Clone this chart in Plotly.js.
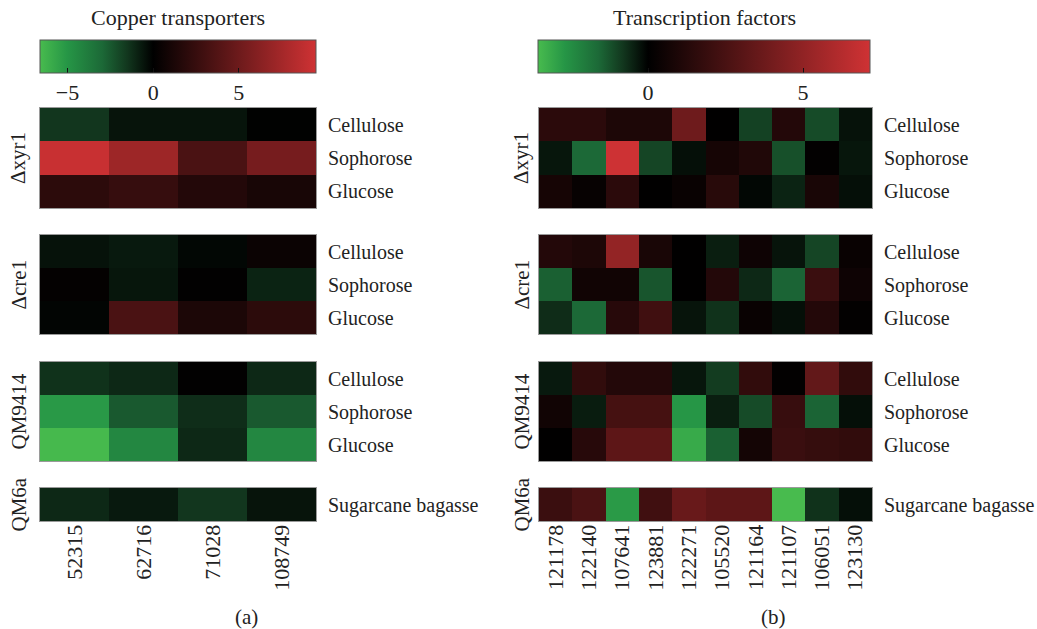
<!DOCTYPE html>
<html>
<head>
<meta charset="utf-8">
<script src="https://cdn.plot.ly/plotly-3.0.1.min.js"></script>
<style>html,body{margin:0;padding:0;background:#fff;}#chart{width:1037px;height:629px;}</style>
</head>
<body>
<div id="chart"></div>
<script>
// ---------- data ----------
const copperGenes = ['52315', '62716', '71028', '108749'];
const tfGenes = ['121178', '122140', '107641', '123881', '122271', '105520', '121164', '121107', '106051', '123130'];
const conditions = ['Cellulose', 'Sophorose', 'Glucose'];
const bagasseCondition = ['Sugarcane bagasse'];
const groupLabels = ['\u0394xyr1', '\u0394cre1', 'QM9414', 'QM6a'];

// Copper transporters (rows: Cellulose, Sophorose, Glucose)
const copperXyr1 = [[-1.5, -0.55, -0.55, -0.05], [9.2, 7.2, 3.4, 5.4], [2.0, 2.5, 1.6, 1.1]];
const copperCre1 = [[-0.5, -0.7, -0.2, 0.5], [0.2, -0.6, 0.1, -0.96], [-0.15, 3.4, 1.3, 2.0]];
const copperQM9414 = [[-1.38, -1.1, 0.1, -1.1], [-5.15, -2.5, -1.25, -2.5], [-6.5, -4.35, -1.1, -4.35]];
const copperQM6a = [[-1.1, -0.7, -1.5, -0.55]];

// Transcription factors
const tfXyr1 = [
  [1.5, 1.5, 1.0, 1.0, 3.8, 0.05, -0.97, 1.2, -1.13, -0.27],
  [-0.33, -1.6, 7.1, -1.04, -0.22, 0.75, 1.1, -1.2, 0.1, -0.33],
  [0.75, 0.25, 1.5, 0.05, 0.3, 1.4, -0.1, -0.52, 0.85, -0.22]
];
const tfCre1 = [
  [1.2, 1.0, 5.1, 0.85, 0.05, -0.44, 0.5, -0.3, -1.04, 0.3],
  [-1.45, 0.6, 0.6, -1.28, 0.05, 1.2, -0.6, -1.52, 2.0, 0.5],
  [-0.66, -1.6, 1.35, 2.2, -0.3, -0.74, 0.3, -0.22, 1.2, 0.1]
];
const tfQM9414 = [
  [-0.37, 1.7, 1.2, 1.2, -0.33, -0.89, 1.7, 0.1, 3.4, 1.7],
  [0.6, -0.41, 2.4, 2.4, -2.7, -0.44, -1.13, 1.9, -1.52, -0.22],
  [0.02, 1.35, 3.2, 3.2, -3.15, -1.45, 0.7, 2.0, 1.85, 1.7]
];
const tfQM6a = [[2.0, 2.55, -2.8, 2.2, 3.6, 3.2, 3.2, -3.55, -0.74, -0.22]];

const copperRange = [-6.6, 9.5];
const tfRange = [-3.55, 7.16];

// ---------- layout helpers ----------
const W = 1037, H = 629;
const px = v => v / W;
const py = v => 1 - v / H;
// green side stops (fraction of the way from black to full green) and red end
const greenStops = [[1, 'rgb(72,187,78)'], [0.76, 'rgb(38,150,70)'], [0.45, 'rgb(28,105,55)'], [0.23, 'rgb(18,55,30)']];
const RED = 'rgb(207,50,52)';
function scale(r) {
  const f = -r[0] / (r[1] - r[0]);
  const s = greenStops.map(([t, c]) => [f * (1 - t), c]);
  s.push([f, 'rgb(0,0,0)'], [1, RED]);
  return s;
}
const font = 'Liberation Serif, Times New Roman, serif';
const FS = 20;
const TXT = '#222';

const panelsY = [[108, 208], [235, 334], [362, 461], [488, 521]];
const leftX = [40, 316], rightX = [539, 872];

const copperData = [copperXyr1, copperCre1, copperQM9414, copperQM6a];
const tfData = [tfXyr1, tfCre1, tfQM9414, tfQM6a];

function cbar(cx, len, tv) {
  return {
    orientation: 'h', x: cx / W, xanchor: 'center',
    y: py(40), yanchor: 'top', len: len / W, lenmode: 'fraction',
    thickness: 33, thicknessmode: 'pixels', xpad: 0, ypad: 0,
    outlinewidth: 1, outlinecolor: '#555',
    tickvals: tv, ticks: 'inside', ticklen: 5, tickcolor: '#111',
    tickfont: {family: font, size: 22, color: TXT}
  };
}

const traces = [];
const layout = {
  width: W, height: H,
  margin: {l: 0, r: 0, t: 0, b: 0},
  paper_bgcolor: '#fff', plot_bgcolor: '#fff',
  font: {family: font, size: FS, color: TXT},
  showlegend: false,
  annotations: [],
  coloraxis: {colorscale: scale(copperRange), cmin: copperRange[0], cmax: copperRange[1],
    colorbar: cbar((leftX[0] + leftX[1]) / 2, leftX[1] - leftX[0], [-5, 0, 5])},
  coloraxis2: {colorscale: scale(tfRange), cmin: tfRange[0], cmax: tfRange[1],
    colorbar: cbar((538 + 870) / 2, 870 - 538, [0, 5])}
};

function addPanel(idx, genes, z, rows, xr, yr, caxis, bottom) {
  const sfx = idx === 1 ? '' : String(idx);
  const xa = 'x' + sfx, ya = 'y' + sfx;
  traces.push({
    type: 'heatmap', x: genes, y: rows, z: z,
    coloraxis: caxis, xaxis: xa, yaxis: ya, xgap: 0, ygap: 0,
    hoverinfo: 'x+y+z'
  });
  layout['xaxis' + sfx] = {
    domain: [px(xr[0]), px(xr[1])], anchor: ya,
    type: 'category', showgrid: false, zeroline: false,
    showline: true, mirror: true, linecolor: '#9a9a9a', linewidth: 1,
    ticks: '', showticklabels: bottom, tickangle: -90, ticklabelstandoff: -6,
    tickfont: {family: font, size: 22, color: TXT}, fixedrange: true
  };
  layout['yaxis' + sfx] = {
    domain: [py(yr[1]), py(yr[0])], anchor: xa,
    type: 'category', autorange: 'reversed', side: 'right',
    showgrid: false, zeroline: false,
    showline: true, mirror: true, linecolor: '#9a9a9a', linewidth: 1,
    ticks: '', ticklabelstandoff: 7,
    tickfont: {family: font, size: FS, color: TXT}, fixedrange: true
  };
}

function ann(x, y, text, angle, size) {
  return {xref: 'paper', yref: 'paper', x: px(x), y: py(y), text: text, textangle: angle || 0,
    showarrow: false, xanchor: 'center', yanchor: 'middle',
    font: {family: font, size: size || FS, color: TXT}};
}

for (let i = 0; i < 4; i++) {
  const rows = i === 3 ? bagasseCondition : conditions;
  addPanel(i + 1, copperGenes, copperData[i], rows, leftX, panelsY[i], 'coloraxis', i === 3);
  addPanel(i + 5, tfGenes, tfData[i], rows, rightX, panelsY[i], 'coloraxis2', i === 3);
  const yc = (panelsY[i][0] + panelsY[i][1]) / 2;
  layout.annotations.push(ann(18, yc, groupLabels[i], -90, 21));
  layout.annotations.push(ann(521, yc, groupLabels[i], -90, 21));
}

layout.annotations.push(
  ann(178, 18, 'Copper transporters', 0, 22),
  ann(704, 18, 'Transcription factors', 0, 22),
  ann(246, 617, '(a)', 0, 21),
  ann(773, 617, '(b)', 0, 21)
);

Plotly.newPlot('chart', traces, layout, {displayModeBar: false, staticPlot: true});
</script>
</body>
</html>
